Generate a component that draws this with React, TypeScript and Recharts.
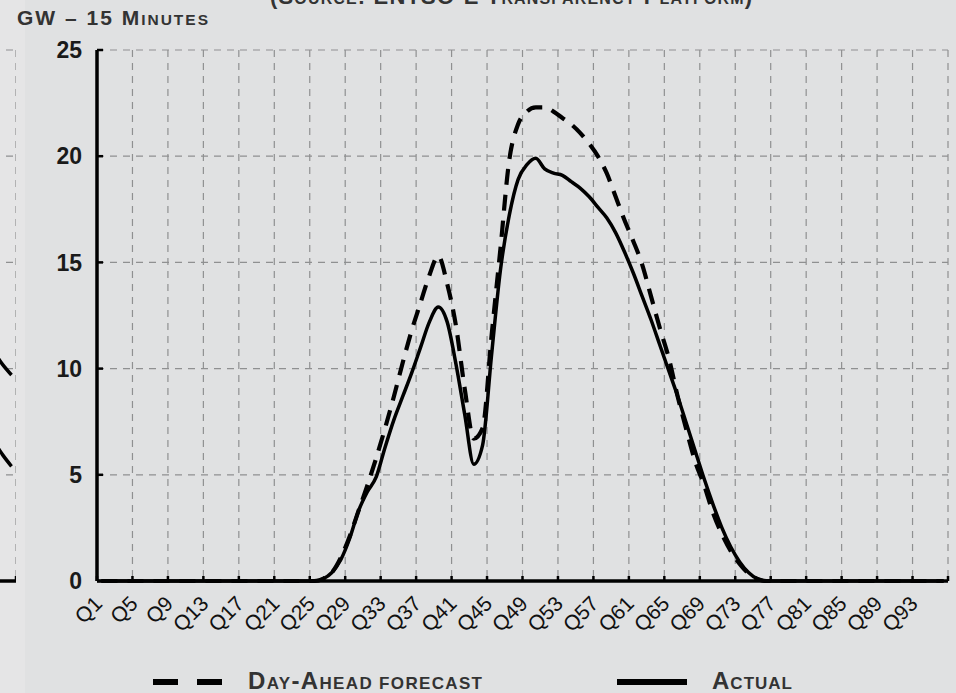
import React from "react";
import { LineChart, Line, XAxis, YAxis, CartesianGrid } from "recharts";

// day-ahead forecast vs actual, GW per quarter hour (Q1..Q96)
const forecast = [
  0, 0, 0, 0, 0, 0, 0, 0, 0, 0, 0, 0,
  0, 0, 0, 0, 0, 0, 0, 0, 0, 0, 0, 0,
  0, 0.1, 0.4, 1.1, 2.1, 3.3, 4.5, 5.8, 7.2, 8.7, 10.3, 11.8,
  13.1, 14.4, 15.3, 14.0, 12.0, 9.0, 6.7, 7.2, 11.5, 15.6, 19.8, 21.5,
  22.1, 22.3, 22.3, 22.1, 21.8, 21.5, 21.1, 20.6, 20.0, 19.2, 18.1, 17.0,
  16.0, 14.9, 13.4, 11.9, 10.5, 8.7, 7.1, 5.6, 4.5, 3.2, 2.2, 1.4,
  0.8, 0.35, 0.1, 0, 0, 0, 0, 0, 0, 0, 0, 0,
  0, 0, 0, 0, 0, 0, 0, 0, 0, 0, 0, 0,
];

const actual = [
  0, 0, 0, 0, 0, 0, 0, 0, 0, 0, 0, 0,
  0, 0, 0, 0, 0, 0, 0, 0, 0, 0, 0, 0,
  0, 0.1, 0.4, 1.0, 2.0, 3.3, 4.2, 4.9, 6.3, 7.6, 8.7, 9.8,
  11.0, 12.2, 12.9, 12.2, 10.2, 7.8, 5.5, 6.4, 10.6, 14.6, 17.2, 18.9,
  19.6, 19.9, 19.4, 19.2, 19.1, 18.8, 18.5, 18.1, 17.6, 17.1, 16.4, 15.5,
  14.5, 13.4, 12.3, 11.1, 9.9, 8.7, 7.4, 6.1, 4.8, 3.6, 2.5, 1.6,
  0.9, 0.4, 0.1, 0, 0, 0, 0, 0, 0, 0, 0, 0,
  0, 0, 0, 0, 0, 0, 0, 0, 0, 0, 0, 0,
];

const tickLabels = [
  "Q1", "Q5", "Q9", "Q13", "Q17", "Q21", "Q25", "Q29", "Q33", "Q37", "Q41", "Q45",
  "Q49", "Q53", "Q57", "Q61", "Q65", "Q69", "Q73", "Q77", "Q81", "Q85", "Q89", "Q93",
];
const yTicks = [0, 5, 10, 15, 20, 25];

// tail of the neighbouring chart, cut off at the left edge
const leftQuarters = ["Q93", "Q94", "Q95", "Q96"];
const leftUpper = [11.2, 10.8, 10.2, 9.7];
const leftLower = [7.2, 6.6, 5.95, 5.4];

const FONT = "'Liberation Sans', Arial, sans-serif";
const qNum = (q: string) => parseInt(q.slice(1), 10);

const data = forecast.map((f, i) => ({
  x: i + 0.5,
  q: `Q${i + 1}`,
  forecast: f,
  actual: actual[i],
}));
const labelTicks = tickLabels.map((q) => qNum(q) - 0.5);
const gridTicks = [...tickLabels.map((q) => qNum(q) - 1), forecast.length];

const leftData = leftQuarters.map((q, i) => ({
  x: qNum(q) - 0.5,
  upper: leftUpper[i],
  lower: leftLower[i],
}));

const QTick = (props: any) => {
  const { x, y, payload } = props;
  const tx = x + 2;
  const ty = y + 23;
  return (
    <text x={tx} y={ty} transform={`rotate(-45 ${tx} ${ty})`} textAnchor="end"
      fontFamily={FONT} fontSize={21} fill="#111">
      {`Q${payload.value + 0.5}`}
    </text>
  );
};

// ticks on the boundary axis carry no label, only the short tick line
const NoLabel = () => <g />;

const gridStyle = { stroke: "#8f9091", strokeWidth: 1.2, strokeDasharray: "7 6" };

export default function App() {
  return (
    <div style={{ position: "relative", width: 956, height: 693, background: "#e0e1e2", overflow: "hidden" }}>
      <style>{"body{margin:0}"}</style>

      <div style={{ position: "absolute", left: 0, top: 0, width: 25, height: 693, overflow: "hidden", background: "#e5e5e6" }}>
        <div style={{ position: "absolute", left: -20, top: 0 }}>
          <LineChart width={36} height={693} data={leftData} margin={{ top: 50, right: 0, left: 0, bottom: 111 }}>
            <CartesianGrid {...gridStyle} />
            <XAxis dataKey="x" type="number" domain={[92, 96]} ticks={[92, 96]} height={1} interval={0}
              tick={<NoLabel />} tickSize={-5} axisLine={{ stroke: "#000", strokeWidth: 3.5 }}
              tickLine={{ stroke: "#000", strokeWidth: 2.5 }} />
            <YAxis type="number" domain={[0, 25]} ticks={yTicks} hide />
            <Line dataKey="upper" type="monotone" stroke="#000" strokeWidth={3.5} dot={false} isAnimationActive={false} />
            <Line dataKey="lower" type="monotone" stroke="#000" strokeWidth={3.5} dot={false} isAnimationActive={false} />
          </LineChart>
        </div>
      </div>

      <div style={{ position: "absolute", left: 0, top: 0 }}>
        <LineChart width={956} height={693} data={data} margin={{ top: 50, right: 8, left: 37, bottom: 51 }}>
          <CartesianGrid xAxisId="grid" {...gridStyle} />
          <XAxis xAxisId="grid" dataKey="x" type="number" domain={[0, 96]} ticks={gridTicks}
            height={1} tick={<NoLabel />} tickSize={-5} interval={0}
            axisLine={{ stroke: "#000", strokeWidth: 3.5 }}
            tickLine={{ stroke: "#000", strokeWidth: 2.5 }} />
          <XAxis xAxisId="lab" dataKey="x" type="number" domain={[0, 96]} ticks={labelTicks}
            height={60} axisLine={false} tickLine={false} tickSize={0} tickMargin={0}
            tick={<QTick />} interval={0} />
          <YAxis type="number" domain={[0, 25]} ticks={yTicks} width={60} interval={0}
            tickSize={-6} tickMargin={21}
            axisLine={{ stroke: "#000", strokeWidth: 3.5 }}
            tickLine={{ stroke: "#000", strokeWidth: 2.5 }}
            tick={{ fontFamily: FONT, fontSize: 23, fontWeight: 700, fill: "#1a1a1a" }} />
          <Line xAxisId="grid" dataKey="forecast" name="Day-Ahead forecast" type="monotone"
            stroke="#000" strokeWidth={4.2} strokeDasharray="16 10" dot={false} isAnimationActive={false} />
          <Line xAxisId="lab" dataKey="actual" name="Actual" type="monotone"
            stroke="#000" strokeWidth={3.5} dot={false} isAnimationActive={false} />
        </LineChart>
      </div>

      <svg width={956} height={693} style={{ position: "absolute", left: 0, top: 0, pointerEvents: "none" }}>
        <text x={270} y={4} fontFamily={FONT} fontWeight={700} fill="#333" textLength={482} lengthAdjust="spacing">
          <tspan fontSize={22}>(S</tspan><tspan fontSize={16}>OURCE</tspan>
          <tspan fontSize={22}>: ENTSO-E T</tspan><tspan fontSize={16}>RANSPARENCY</tspan>
          <tspan fontSize={22}> P</tspan><tspan fontSize={16}>LATFORM</tspan><tspan fontSize={22}>)</tspan>
        </text>
        <text x={17} y={25} fontFamily={FONT} fontWeight={700} fill="#333" textLength={191} lengthAdjust="spacing">
          <tspan fontSize={21}>GW – 15 M</tspan><tspan fontSize={15.5}>INUTES</tspan>
        </text>

        <line x1={153} x2={222} y1={682} y2={682} stroke="#000" strokeWidth={6} strokeDasharray="25 19" />
        <text x={248} y={689} fontFamily={FONT} fontWeight={700} fill="#333" textLength={234} lengthAdjust="spacing">
          <tspan fontSize={24}>D</tspan><tspan fontSize={17}>AY</tspan><tspan fontSize={24}>-A</tspan>
          <tspan fontSize={17}>HEAD FORECAST</tspan>
        </text>
        <line x1={617} x2={687} y1={682} y2={682} stroke="#000" strokeWidth={6} />
        <text x={712} y={689} fontFamily={FONT} fontWeight={700} fill="#333" textLength={80} lengthAdjust="spacing">
          <tspan fontSize={24}>A</tspan><tspan fontSize={17}>CTUAL</tspan>
        </text>
      </svg>
    </div>
  );
}
